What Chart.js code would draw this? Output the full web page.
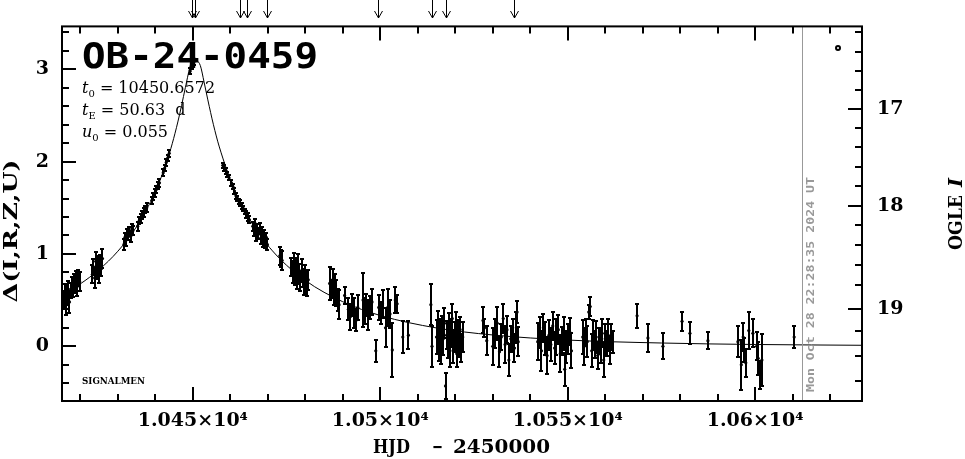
<!DOCTYPE html>
<html>
<head>
<meta charset="utf-8">
<title>OB-24-0459</title>
<script src="https://cdn.jsdelivr.net/npm/chart.js@4.4.1/dist/chart.umd.min.js"></script>
<style>
  html, body { margin: 0; padding: 0; background: #fff; }
  canvas { display: block; }
</style>
</head>
<body>
<canvas id="lightCurve" width="965" height="459"></canvas>
<script>
const obsDay = [
  10415.6, 10415.9, 10416.2, 10416.5, 10416.8, 10417.1, 10417.4, 10417.7, 10418.0, 10418.3, 10418.6, 10418.9, 10419.2, 10419.5, 10419.8,
  10423.2, 10423.5, 10423.8, 10424.1, 10424.4, 10424.7, 10425.0, 10425.3, 10425.6, 10425.9,
  10431.6, 10431.9, 10432.2, 10432.5, 10432.8, 10433.1, 10433.4, 10433.7, 10434.0, 10435.3, 10435.7, 10436.1, 10436.5, 10436.9, 10437.3, 10437.7,
  10439.1, 10439.5, 10439.9, 10440.3, 10440.7, 10441.1,
  10442.1, 10442.5, 10442.9, 10443.3, 10443.7,
  10449.3, 10449.7, 10450.0, 10450.3,
  10458.0, 10458.4, 10458.8, 10459.2, 10459.6,
  10460.3, 10460.7, 10461.1, 10461.5, 10461.9, 10462.3, 10462.7, 10463.1, 10463.5, 10463.9, 10464.3, 10464.7, 10465.1,
  10466.0, 10466.3, 10466.6, 10466.9, 10467.2, 10467.5, 10467.8, 10468.1, 10468.4, 10468.7, 10469.0, 10469.3, 10469.6, 10469.9,
  10473.2, 10473.5, 10473.8,
  10476.3, 10476.6, 10476.9, 10477.2, 10477.5, 10477.8, 10478.1, 10478.4, 10478.7, 10479.0, 10479.3, 10479.6, 10479.9, 10480.2, 10480.5, 10480.8,
  10486.5, 10487.0, 10487.3, 10487.6, 10488.0, 10488.3, 10488.6, 10489.0, 10490.5, 10491.5, 10492.0, 10492.5, 10493.0, 10493.5, 10494.0,
  10495.4, 10495.8, 10496.3, 10496.8, 10497.3, 10497.8, 10498.8, 10499.6, 10500.1, 10500.6, 10501.4, 10502.0, 10502.6, 10503.2, 10504.0,
  10504.5, 10506.0, 10507.5,
  10513.5, 10513.8,
  10515.0, 10515.3, 10515.6, 10515.9, 10516.2, 10516.5, 10516.8, 10517.1, 10517.4, 10517.7, 10518.0, 10518.3,
  10518.6, 10518.9, 10519.2, 10519.5, 10519.8, 10520.1, 10520.4, 10520.7, 10521.0, 10521.3, 10521.6, 10522.0,
  10527.4, 10527.8, 10528.4, 10530.0, 10530.6, 10531.2, 10531.8, 10532.3, 10532.8, 10533.3, 10533.8, 10534.3,
  10534.8, 10535.3, 10535.8, 10536.3, 10536.5, 10536.8,
  10542.0, 10542.5, 10543.0, 10543.5, 10544.0, 10544.5, 10545.0, 10545.5, 10546.0, 10546.5, 10547.0, 10547.5,
  10548.0, 10548.5, 10549.0, 10549.2, 10549.5, 10550.0, 10550.5, 10551.0,
  10554.0, 10554.4, 10554.8, 10555.2, 10555.6, 10556.0, 10556.4, 10556.8, 10557.2, 10557.6, 10558.0,
  10558.4, 10558.8, 10559.2, 10559.6, 10560.0, 10560.4, 10560.8, 10561.2, 10561.6, 10562.0,
  10568.5, 10571.4, 10575.4, 10580.5, 10582.6, 10587.4,
  10595.4, 10596.3, 10596.8, 10597.0, 10597.5, 10598.3, 10599.4, 10600.4, 10600.8, 10601.3, 10601.8,
  10610.4
];
const obsDelta = [
  0.50, 0.58, 0.45, 0.55, 0.62, 0.48, 0.60, 0.66, 0.63, 0.70, 0.68, 0.72, 0.65, 0.74, 0.70,
  0.78, 0.86, 0.74, 0.92, 0.82, 0.88, 0.79, 0.90, 0.84, 0.95,
  1.10, 1.18, 1.15, 1.22, 1.20, 1.24, 1.19, 1.27, 1.25, 1.30, 1.36, 1.38, 1.42, 1.45, 1.48, 1.50,
  1.58, 1.62, 1.66, 1.70, 1.74, 1.77,
  1.88, 1.93, 1.99, 2.04, 2.09,
  2.98, 3.03, 3.06, 3.08,
  1.96, 1.93, 1.90, 1.86, 1.83,
  1.77, 1.73, 1.68, 1.63, 1.60, 1.57, 1.55, 1.52, 1.49, 1.46, 1.43, 1.40, 1.37,
  1.30, 1.25, 1.33, 1.20, 1.27, 1.22, 1.28, 1.17, 1.24, 1.14, 1.20, 1.12, 1.18, 1.10,
  0.98, 0.95, 0.93,
  0.86, 0.80, 0.90, 0.76, 0.84, 0.72, 0.88, 0.78, 0.70, 0.82, 0.74, 0.66, 0.78, 0.70, 0.64, 0.72,
  0.68, 0.62, 0.72, 0.55, 0.66, 0.58, 0.50, 0.45, 0.55, 0.40, 0.32, 0.45, 0.36, 0.28, 0.42,
  0.50, 0.38, 0.45, 0.34, 0.42, 0.48, -0.05, 0.42, 0.36, 0.46, 0.20, 0.42, 0.35, -0.04, 0.50,
  0.46, 0.10, 0.12,
  0.45, 0.00,
  0.10, 0.22, 0.02, 0.15, -0.02, 0.18, 0.08, 0.25, -0.43, 0.12, 0.05, 0.20,
  -0.05, 0.14, 0.30, 0.00, 0.10, 0.22, -0.08, 0.12, 0.05, 0.18, -0.02, 0.10,
  0.28, 0.20, 0.06, 0.00, 0.14, 0.25, -0.06, 0.10, 0.30, 0.02, 0.18, -0.15,
  0.08, 0.12, -0.02, 0.20, 0.37, 0.05,
  0.05, 0.15, -0.05, 0.20, 0.08, -0.10, 0.12, 0.02, 0.22, -0.02, 0.10, 0.18,
  -0.08, 0.06, 0.14, -0.25, -0.01, 0.08, 0.16, -0.05,
  0.10, 0.00, 0.15, 0.05, 0.37, 0.43, -0.05, 0.12, 0.02, 0.10, -0.10,
  0.06, 0.00, 0.14, -0.15, 0.08, 0.03, 0.12, -0.04, 0.10, 0.05,
  0.33, 0.09, 0.00, 0.27, 0.14, 0.06,
  0.05, -0.20, 0.10, -0.04, -0.18, 0.17, 0.14, 0.00, -0.13, -0.31, -0.15,
  0.10
];
const obsErr = [
  0.10, 0.09, 0.11, 0.10, 0.09, 0.12, 0.08, 0.09, 0.10, 0.08, 0.10, 0.09, 0.11, 0.09, 0.10,
  0.10, 0.09, 0.11, 0.10, 0.09, 0.10, 0.11, 0.09, 0.08, 0.10,
  0.06, 0.05, 0.06, 0.05, 0.05, 0.05, 0.06, 0.05, 0.05, 0.05, 0.04, 0.05, 0.04, 0.05, 0.04, 0.05,
  0.04, 0.04, 0.04, 0.04, 0.04, 0.04,
  0.04, 0.03, 0.04, 0.03, 0.04,
  0.03, 0.03, 0.03, 0.03,
  0.03, 0.03, 0.03, 0.03, 0.03,
  0.03, 0.03, 0.03, 0.03, 0.03, 0.03, 0.03, 0.03, 0.03, 0.03, 0.04, 0.04, 0.04,
  0.05, 0.06, 0.05, 0.06, 0.05, 0.06, 0.06, 0.06, 0.05, 0.06, 0.06, 0.06, 0.05, 0.06,
  0.10, 0.09, 0.10,
  0.10, 0.12, 0.11, 0.10, 0.12, 0.10, 0.12, 0.11, 0.10, 0.12, 0.10, 0.11, 0.10, 0.12, 0.10, 0.11,
  0.18, 0.10, 0.12, 0.10, 0.12, 0.14, 0.12, 0.16, 0.09, 0.12, 0.14, 0.12, 0.16, 0.12, 0.14,
  0.29, 0.14, 0.12, 0.16, 0.12, 0.14, 0.12, 0.14, 0.12, 0.15, 0.21, 0.20, 0.15, 0.29, 0.14,
  0.10, 0.17, 0.15,
  0.22, 0.22,
  0.18, 0.16, 0.18, 0.14, 0.17, 0.15, 0.18, 0.16, 0.14, 0.15, 0.18, 0.16,
  0.17, 0.15, 0.16, 0.18, 0.16, 0.15, 0.14, 0.16, 0.17, 0.14, 0.15, 0.16,
  0.14, 0.10, 0.16, 0.20, 0.16, 0.18, 0.16, 0.14, 0.16, 0.20, 0.15, 0.17,
  0.14, 0.18, 0.15, 0.17, 0.12, 0.16,
  0.20, 0.17, 0.22, 0.15, 0.18, 0.20, 0.16, 0.18, 0.15, 0.17, 0.19, 0.16,
  0.20, 0.15, 0.18, 0.18, 0.17, 0.16, 0.15, 0.19,
  0.18, 0.20, 0.15, 0.17, 0.08, 0.10, 0.18, 0.16, 0.15, 0.17, 0.15,
  0.14, 0.18, 0.15, 0.18, 0.16, 0.14, 0.17, 0.15, 0.14, 0.12,
  0.13, 0.15, 0.14, 0.10, 0.12, 0.09,
  0.17, 0.27, 0.15, 0.13, 0.15, 0.20, 0.15, 0.15, 0.18, 0.15, 0.28,
  0.12
];

// fitted model curve
const modelDay = [10415, 10420, 10425, 10430, 10435, 10440, 10443, 10444.5, 10446, 10447, 10448, 10449.5, 10450, 10450.66,
  10451, 10452, 10453, 10454, 10455.5, 10457, 10461, 10466, 10472, 10480, 10490, 10500, 10515, 10530, 10550, 10575, 10600, 10630];
const modelDelta = [0.555, 0.676, 0.830, 1.029, 1.296, 1.675, 1.994, 2.193, 2.429, 2.608, 2.80, 3.064, 3.10, 3.12,
  3.10, 3.04, 2.861, 2.668, 2.399, 2.168, 1.705, 1.317, 0.999, 0.713, 0.482, 0.333, 0.198, 0.122, 0.067, 0.035, 0.019, 0.010];

// axis ticks
const xTicks = [10420, 10430, 10440, 10450, 10460, 10470, 10480, 10490, 10500, 10510, 10520, 10530, 10540,
  10550, 10560, 10570, 10580, 10590, 10600, 10610, 10620];
const xMajor = [10450, 10500, 10550, 10600];
const yTicks = [-0.4, -0.2, 0, 0.2, 0.4, 0.6, 0.8, 1, 1.2, 1.4, 1.6, 1.8, 2, 2.2, 2.4, 2.6, 2.8, 3, 3.2, 3.4];
// right axis: OGLE I magnitude and where each tick sits on the delta scale
const ogleMag = [16.2, 16.4, 16.6, 16.8, 17, 17.2, 17.4, 17.6, 17.8, 18, 18.2, 18.4, 18.6, 18.8, 19, 19.2, 19.4, 19.6];
const ogleDelta = [3.399, 3.187, 2.982, 2.777, 2.565, 2.360, 2.155, 1.942, 1.737, 1.522, 1.309, 1.097, 0.882, 0.666,
  0.403, 0.162, -0.108, -0.378];

// arrows on top, and the "now" line
const arrowDays = [10449.73, 10450.61, 10462.62, 10464.56, 10469.74, 10499.51, 10513.75, 10517.57, 10535.78];
const nowDay = 10612.5;
const nowLabel = 'Mon Oct 28 22:28:35 2024 UT';

const serif = '"DejaVu Serif", "Liberation Serif", serif';
const mono = '"DejaVu Sans Mono", "Liberation Mono", monospace';

function fitText(ctx, text, x, y, width) {
    const w = ctx.measureText(text).width;
    ctx.save();
    ctx.translate(x, y);
    ctx.scale(width / w, 1);
    ctx.fillText(text, 0, 0);
    ctx.restore();
}

function seg(ctx, x1, y1, x2, y2) {
    ctx.beginPath();
    ctx.moveTo(x1, y1);
    ctx.lineTo(x2, y2);
    ctx.stroke();
}

// t0 / tE / u0 lines with italic symbol and subscript
function drawParam(ctx, sym, sub, rest, x, y) {
    ctx.font = 'italic 16px ' + serif;
    ctx.fillText(sym, x, y);
    x += ctx.measureText(sym).width;
    ctx.font = '10px ' + serif;
    ctx.fillText(sub, x, y + 4);
    x += ctx.measureText(sub).width;
    ctx.font = '16px ' + serif;
    ctx.fillText(rest, x, y);
}

const decor = {
    id: 'decor',
    afterDatasetsDraw(chart) {
        const { ctx, chartArea: a, scales: { x, y } } = chart;
        ctx.save();
        ctx.beginPath();
        ctx.rect(a.left, a.top, a.right - a.left, a.bottom - a.top);
        ctx.clip();
        ctx.strokeStyle = '#000';
        ctx.lineWidth = 2;
        obsDay.forEach((d, i) => {
            const px = Math.round(x.getPixelForValue(d));
            const top = Math.round(y.getPixelForValue(obsDelta[i] + obsErr[i]));
            const bot = Math.round(y.getPixelForValue(obsDelta[i] - obsErr[i]));
            seg(ctx, px, top, px, bot);
            seg(ctx, px - 2, top, px + 2, top);
            seg(ctx, px - 2, bot, px + 2, bot);
        });
        ctx.restore();
    },
    afterDraw(chart) {
        const { ctx, chartArea: a, scales: { x, y, y2 } } = chart;
        ctx.save();
        ctx.strokeStyle = '#000';
        ctx.fillStyle = '#000';
        ctx.lineWidth = 2;

        // grey "now" line and date
        const nx = Math.round(x.getPixelForValue(nowDay)) + 0.5;
        ctx.strokeStyle = '#999';
        ctx.lineWidth = 1;
        seg(ctx, nx, a.top, nx, a.bottom);
        ctx.fillStyle = '#999';
        ctx.font = 'bold 11px ' + mono;
        ctx.save();
        ctx.translate(nx + 11, 392);
        ctx.rotate(-Math.PI / 2);
        fitText(ctx, nowLabel, 0, 0, 215);
        ctx.restore();

        // frame and inward ticks
        ctx.strokeStyle = '#000';
        ctx.fillStyle = '#000';
        ctx.lineWidth = 2;
        ctx.strokeRect(a.left, a.top, a.right - a.left, a.bottom - a.top);
        x.ticks.forEach(t => {
            const px = Math.round(x.getPixelForValue(t.value));
            const len = xMajor.includes(t.value) ? 14 : 7;
            seg(ctx, px, a.bottom, px, a.bottom - len);
            seg(ctx, px, a.top, px, a.top + len);
        });
        y.ticks.forEach(t => {
            const py = Math.round(y.getPixelForValue(t.value));
            const len = Number.isInteger(t.value) ? 14 : 7;
            seg(ctx, a.left, py, a.left + len, py);
        });
        y2.ticks.forEach((t, i) => {
            const py = Math.round(y2.getPixelForValue(t.value));
            const len = Number.isInteger(ogleMag[i]) ? 14 : 7;
            seg(ctx, a.right, py, a.right - len, py);
        });

        // arrows above the plot
        ctx.lineWidth = 1;
        arrowDays.forEach(d => {
            const px = Math.round(x.getPixelForValue(d)) + 0.5;
            seg(ctx, px, 0, px, 18);
            ctx.beginPath();
            ctx.moveTo(px - 4, 11);
            ctx.lineTo(px, 18);
            ctx.lineTo(px + 4, 11);
            ctx.stroke();
        });

        // OGLE symbol
        ctx.lineWidth = 2;
        ctx.beginPath();
        ctx.arc(838, 48, 2, 0, Math.PI * 2);
        ctx.stroke();

        // event name and fit parameters
        ctx.textAlign = 'left';
        ctx.textBaseline = 'alphabetic';
        ctx.font = 'bold 36px ' + mono;
        fitText(ctx, 'OB-24-0459', 82, 68, 236);
        drawParam(ctx, 't', '0', ' = 10450.6572', 82, 93);
        drawParam(ctx, 't', 'E', ' = 50.63  d', 82, 115);
        drawParam(ctx, 'u', '0', ' = 0.055', 82, 137);
        ctx.font = 'bold 9px ' + serif;
        fitText(ctx, 'SIGNALMEN', 82, 384, 63);

        // axis titles
        ctx.font = 'bold 19px ' + serif;
        fitText(ctx, 'HJD', 373, 453, 37);
        fitText(ctx, '\u2212', 432, 453, 11);
        fitText(ctx, '2450000', 453, 453, 97);

        ctx.save();
        ctx.translate(17, 231);
        ctx.rotate(-Math.PI / 2);
        ctx.textAlign = 'center';
        fitText(ctx, '\u0394(I,R,Z,U)', 0, 0, 143);
        ctx.restore();

        ctx.save();
        ctx.translate(962, 250);
        ctx.rotate(-Math.PI / 2);
        ctx.font = 'bold 19px ' + serif;
        fitText(ctx, 'OGLE', 0, 0, 55);
        ctx.font = 'italic bold 19px ' + serif;
        fitText(ctx, 'I', 63, 0, 9);
        ctx.restore();

        ctx.restore();
    }
};

const tickFont = { family: serif, weight: 'bold', size: 19 };

const ctx = document.getElementById('lightCurve').getContext('2d');
const lightCurve = new Chart(ctx, {
    type: 'scatter',
    data: {
        datasets: [
            {
                label: 'model',
                data: modelDay.map((d, i) => ({ x: d, y: modelDelta[i] })),
                showLine: true,
                borderColor: '#000',
                borderWidth: 1,
                pointRadius: 0,
                cubicInterpolationMode: 'monotone',
            },
            {
                label: 'data',
                data: obsDay.map((d, i) => ({ x: d, y: obsDelta[i] })),
                pointRadius: 1.6,
                pointBackgroundColor: '#000',
                pointBorderWidth: 0,
            },
        ]
    },
    options: {
        responsive: false,
        animation: false,
        devicePixelRatio: 1,
        layout: { padding: { top: 25, left: 0, right: 0, bottom: 0 } },
        plugins: {
            legend: { display: false },
            tooltip: { enabled: false },
        },
        scales: {
            x: {
                type: 'linear',
                position: 'bottom',
                min: 10415.1,
                max: 10628.5,
                afterBuildTicks: s => { s.ticks = xTicks.map(v => ({ value: v })); },
                afterFit: s => { s.height = 58; },
                grid: { display: false, drawTicks: false },
                border: { display: false },
                ticks: {
                    autoSkip: false,
                    maxRotation: 0,
                    padding: 9,
                    color: '#000',
                    font: tickFont,
                    callback: v => xMajor.includes(v) ? (v / 1e4) + '\u00d710\u2074' : '',
                },
            },
            y: {
                position: 'left',
                min: -0.593,
                max: 3.464,
                afterBuildTicks: s => { s.ticks = yTicks.map(v => ({ value: v })); },
                afterFit: s => { s.width = 62; },
                grid: { display: false, drawTicks: false },
                border: { display: false },
                ticks: {
                    autoSkip: false,
                    padding: 13,
                    color: '#000',
                    font: tickFont,
                    callback: v => Number.isInteger(v) ? String(v) : '',
                },
            },
            y2: {
                position: 'right',
                min: -0.593,
                max: 3.464,
                afterBuildTicks: s => { s.ticks = ogleDelta.map(v => ({ value: v })); },
                afterFit: s => { s.width = 103; },
                grid: { display: false, drawTicks: false },
                border: { display: false },
                ticks: {
                    autoSkip: false,
                    padding: 15,
                    color: '#000',
                    font: tickFont,
                    callback: (v, i) => Number.isInteger(ogleMag[i]) ? String(ogleMag[i]) : '',
                },
            },
        }
    },
    plugins: [decor],
});
</script>
</body>
</html>
